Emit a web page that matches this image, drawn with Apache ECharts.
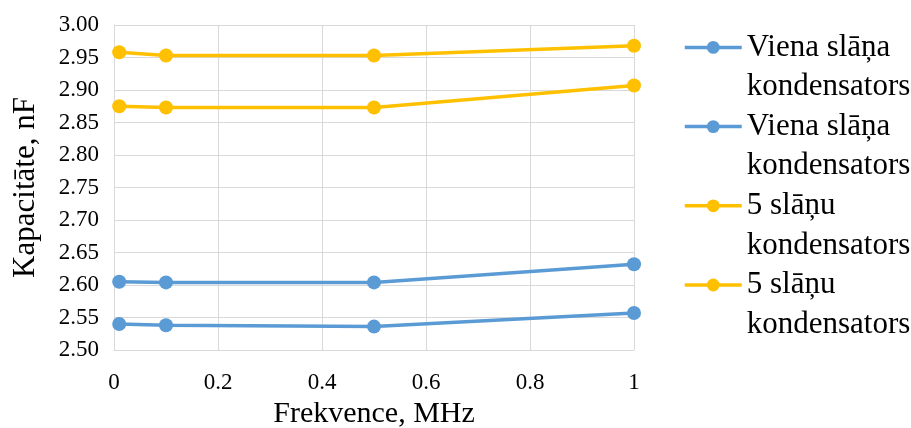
<!DOCTYPE html>
<html>
<head>
<meta charset="utf-8">
<script src="https://cdn.jsdelivr.net/npm/echarts@6/dist/echarts.min.js"></script>
<style>
html,body{margin:0;padding:0;background:#fff;}
#chart{width:911px;height:428px;}
</style>
</head>
<body>
<div id="chart"></div>
<script>
const frequencies = [0.01, 0.1, 0.5, 1];
const vienaA = [2.605, 2.604, 2.604, 2.632];
const vienaB = [2.540, 2.538, 2.536, 2.557];
const pieciA = [2.875, 2.873, 2.873, 2.907];
const pieciB = [2.958, 2.953, 2.953, 2.968];
const seriesKeys = ['vienaA', 'vienaB', 'pieciA', 'pieciB'];
const seriesLabels = [['Viena slāņa', 'kondensators'], ['Viena slāņa', 'kondensators'], ['5 slāņu', 'kondensators'], ['5 slāņu', 'kondensators']];
const seriesValues = [vienaA, vienaB, pieciA, pieciB];
const seriesColors = ['#5b9bd5', '#5b9bd5', '#ffc000', '#ffc000'];
const xTicks = [0, 0.2, 0.4, 0.6, 0.8, 1];
const yTicks = ['2.50','2.55','2.60','2.65','2.70','2.75','2.80','2.85','2.90','2.95','3.00'];
const xTitle = 'Frekvence, MHz';
const yTitle = 'Kapacitāte, nF';

const font = 'Liberation Serif';
const chart = echarts.init(document.getElementById('chart'));

chart.setOption({
  animation: false,
  backgroundColor: '#fff',
  grid: { left: 114, right: 277, top: 25, bottom: 78, containLabel: false, outerBoundsMode: 'none' },
  legend: {
    orient: 'vertical',
    left: 683,
    top: -12,
    padding: 0,
    itemWidth: 57,
    itemHeight: 16,
    itemGap: -39.6,
    data: seriesKeys,
    lineStyle: { width: 3.5 },
    formatter: function (name) {
      const l = seriesLabels[seriesKeys.indexOf(name)];
      return '{t| }\n{t|' + l[0] + '}\n{t|' + l[1] + '}';
    },
    textStyle: {
      fontFamily: font, fontSize: 31, color: '#000', lineHeight: 39.6,
      rich: { t: { fontFamily: font, fontSize: 31, color: '#000', lineHeight: 39.6 } }
    }
  },
  xAxis: {
    type: 'value',
    min: 0, max: 1, interval: 0.2,
    name: xTitle,
    nameLocation: 'middle',
    nameGap: 42,
    nameTextStyle: { fontFamily: font, fontSize: 30, color: '#000' },
    axisLine: { show: true, lineStyle: { color: '#d9d9d9', width: 1 } },
    axisTick: { show: false },
    splitLine: { show: true, lineStyle: { color: '#d9d9d9', width: 1 } },
    axisLabel: {
      fontFamily: font, fontSize: 23, color: '#000', margin: 21,
      formatter: function (v) {
        const t = xTicks.find(x => Math.abs(x - v) < 1e-9);
        return t === undefined ? '' : String(t);
      }
    }
  },
  yAxis: {
    type: 'value',
    min: 2.5, max: 3.0, interval: 0.05,
    name: yTitle,
    nameLocation: 'middle',
    nameGap: 73,
    nameTextStyle: { fontFamily: font, fontSize: 31, color: '#000' },
    axisLine: { show: true, lineStyle: { color: '#d9d9d9', width: 1 } },
    axisTick: { show: false },
    splitLine: { show: true, lineStyle: { color: '#d9d9d9', width: 1 } },
    axisLabel: {
      fontFamily: font, fontSize: 23, color: '#000', margin: 15,
      formatter: function (v) {
        const i = Math.round((v - 2.5) / 0.05);
        return yTicks[i] !== undefined ? yTicks[i] : '';
      }
    }
  },
  series: seriesKeys.map(function (k, i) {
    return {
      name: k,
      type: 'line',
      data: frequencies.map(function (f, j) { return [f, seriesValues[i][j]]; }),
      symbol: 'circle',
      symbolSize: 14,
      color: seriesColors[i],
      lineStyle: { width: 3.5, color: seriesColors[i] },
      itemStyle: { color: seriesColors[i] }
    };
  })
});
</script>
</body>
</html>
